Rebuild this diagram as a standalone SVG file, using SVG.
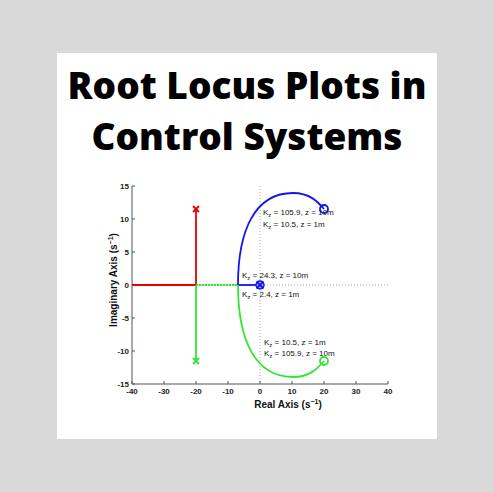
<svg xmlns="http://www.w3.org/2000/svg" width="494" height="492" viewBox="0 0 494 492">
<style>
.title{font-family:"Open Sans","Liberation Sans",sans-serif;font-weight:800;font-size:37px;fill:#000;text-anchor:middle}
.tick{font-family:"Liberation Sans",Arial,sans-serif;font-size:8px;font-weight:bold;fill:#222}
.axl{font-family:"Liberation Sans",Arial,sans-serif;font-size:10px;font-weight:bold;fill:#111}
.ann{font-family:"Liberation Sans",Arial,sans-serif;font-size:8px;fill:#111}
.sub{font-size:6px}
.axis{stroke:#555;stroke-width:1;fill:none}
.grid{stroke:#aaa;stroke-width:1;stroke-dasharray:1,2;fill:none}
.red{stroke:#e60000;stroke-width:1.8;fill:none}
.blue{stroke:#1414f0;stroke-width:1.8;fill:none}
.green{stroke:#33e633;stroke-width:1.8;fill:none}
</style>
<rect x="0" y="0" width="494" height="492" fill="#d9d9d9"/>
<rect x="57" y="53" width="380" height="386" fill="#fff"/>
<g id="title">
<text class="title" x="247" y="99">Root Locus Plots in</text>
<text class="title" x="247" y="150">Control Systems</text>
</g>
<g id="axes">
<line class="grid" x1="260" y1="186" x2="260" y2="384"/>
<line class="grid" x1="132" y1="285" x2="388" y2="285"/>
<path class="axis" d="M132,186 V384 H388"/>
<path class="axis" d="M132,186 h3 M132,219 h3 M132,252 h3 M132,285 h3 M132,318 h3 M132,351 h3 M132,384 h3"/>
<path class="axis" d="M132,384 v-3 M164,384 v-3 M196,384 v-3 M228,384 v-3 M260,384 v-3 M292,384 v-3 M324,384 v-3 M356,384 v-3 M388,384 v-3"/>
<g class="tick" text-anchor="end">
<text x="129" y="189">15</text>
<text x="129" y="222">10</text>
<text x="129" y="255">5</text>
<text x="129" y="288">0</text>
<text x="129" y="321">-5</text>
<text x="129" y="354">-10</text>
<text x="129" y="387">-15</text>
</g>
<g class="tick" text-anchor="middle">
<text x="132" y="394">-40</text>
<text x="164" y="394">-30</text>
<text x="196" y="394">-20</text>
<text x="228" y="394">-10</text>
<text x="260" y="394">0</text>
<text x="292" y="394">10</text>
<text x="324" y="394">20</text>
<text x="356" y="394">30</text>
<text x="388" y="394">40</text>
</g>
<text class="axl" x="288" y="408" text-anchor="middle">Real Axis (s<tspan font-size="7" dy="-4">−1</tspan><tspan dy="4">)</tspan></text>
<text class="axl" transform="translate(117,280) rotate(-90)" text-anchor="middle">Imaginary Axis (s<tspan font-size="7" dy="-4">−1</tspan><tspan dy="4">)</tspan></text>
</g>
<g id="connectors">
<path class="red" d="M132,285 H196 V209"/>
<path class="green" d="M196,285 V361"/>
<path class="green" stroke-dasharray="2,1" d="M196,285 H238"/>
<path class="blue" d="M238,285 H260"/>
<path class="blue" d="M238,285 C238,230 255,193 293,193 C310,193 318,202 324,209"/>
<path class="green" d="M238,285 C238,340 255,377 293,377 C310,377 318,368 324,361"/>
</g>
<g id="markers">
<path class="red" d="M193,206 l6,6 m0,-6 l-6,6"/>
<path class="green" d="M193,358 l6,6 m0,-6 l-6,6"/>
<circle class="blue" cx="324" cy="209" r="4"/>
<circle class="green" cx="324" cy="361" r="4"/>
<circle cx="260" cy="285" r="4" fill="#aab4f0" stroke="#1414f0" stroke-width="1.4"/>
<path class="blue" d="M256.5,281.5 l7,7 m0,-7 l-7,7"/>
</g>
<g id="annotations" class="ann">
<text x="263" y="215">K<tspan class="sub" dy="2">z</tspan><tspan dy="-2"> = 105.9, z = 10m</tspan></text>
<text x="263" y="227">K<tspan class="sub" dy="2">z</tspan><tspan dy="-2"> = 10.5, z = 1m</tspan></text>
<text x="242" y="278">K<tspan class="sub" dy="2">z</tspan><tspan dy="-2"> = 24.3, z = 10m</tspan></text>
<text x="242" y="297">K<tspan class="sub" dy="2">z</tspan><tspan dy="-2"> = 2.4, z = 1m</tspan></text>
<text x="264" y="345">K<tspan class="sub" dy="2">z</tspan><tspan dy="-2"> = 10.5, z = 1m</tspan></text>
<text x="264" y="356">K<tspan class="sub" dy="2">z</tspan><tspan dy="-2"> = 105.9, z = 10m</tspan></text>
</g>
</svg>
